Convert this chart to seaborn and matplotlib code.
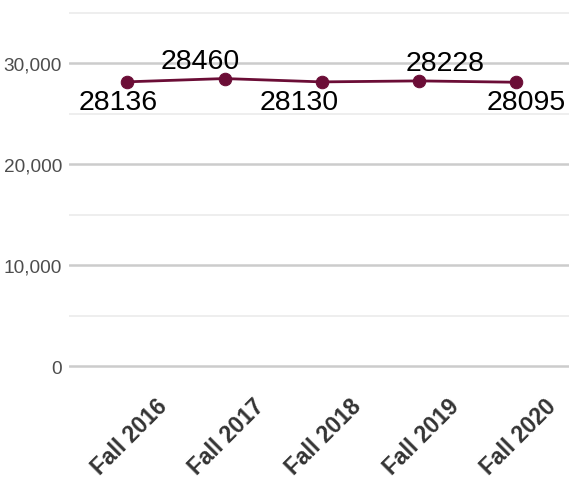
import matplotlib
matplotlib.use('Agg')
import matplotlib.pyplot as plt
import matplotlib.transforms as mtransforms
import seaborn as sns
import pandas as pd

#--Data
terms = ['Fall 2016', 'Fall 2017', 'Fall 2018', 'Fall 2019', 'Fall 2020']
enrollment = [28136, 28460, 28130, 28228, 28095]

#label offsets in pixels (dx, dy) - alternating below / above
label_offsets = [(-9, -20), (-24, 18), (-23, -20), (26, 18), (10, -20)]

df = pd.DataFrame({'term': terms, 'enrollment': enrollment})
line_color = '#6b0d36'

sns.set_style('white')
plt.rcParams['font.family'] = ['Liberation Sans', 'DejaVu Sans']

fig = plt.figure(figsize=(5.69, 4.81), dpi=100)
ax = fig.add_axes([69 / 569, 1 - 385 / 481, 500 / 569, 375 / 481])

x = list(range(len(terms)))
sns.lineplot(x=x, y=df['enrollment'], ax=ax, color=line_color, linewidth=2,
             marker='o', markersize=9, markeredgecolor=line_color)

for i, (xi, val) in enumerate(zip(x, enrollment)):
    dx, dy = label_offsets[i]
    ax.annotate(str(val), (xi, val), xytext=(dx, dy), textcoords='offset pixels',
                ha='center', va='center', fontsize=20.5, color='black')

ax.set_xlim(-0.598, 4.54)
ax.set_ylim(-1782, 35347)

ax.set_yticks([0, 10000, 20000, 30000])
ax.set_yticklabels(['0', '10,000', '20,000', '30,000'])
ax.set_yticks([5000, 15000, 25000, 35000], minor=True)
ax.set_xticks(x)

ax.tick_params(axis='y', which='both', length=0, labelsize=13.7, labelcolor='#4d4d4d', pad=5)
ax.tick_params(axis='x', length=0, pad=7)

ax.set_xticklabels(terms, rotation=45, ha='right', rotation_mode='anchor',
                   fontsize=16.5, fontweight='bold', color='#333333')
#shift rotated labels right (after tick_params, which resets transforms)
offset = mtransforms.ScaledTranslation(28 / 100, 0, fig.dpi_scale_trans)
for lbl in ax.get_xticklabels():
    lbl.set_transform(lbl.get_transform() + offset)

ax.grid(axis='y', which='major', color='#cccccc', linewidth=1.8)
ax.grid(axis='y', which='minor', color='#eeeeee', linewidth=1.4)
ax.grid(axis='x', visible=False)
ax.set_axisbelow(True)
for s in ax.spines.values():
    s.set_visible(False)
ax.set_xlabel('')
ax.set_ylabel('')

plt.savefig('out.png', dpi=100)
